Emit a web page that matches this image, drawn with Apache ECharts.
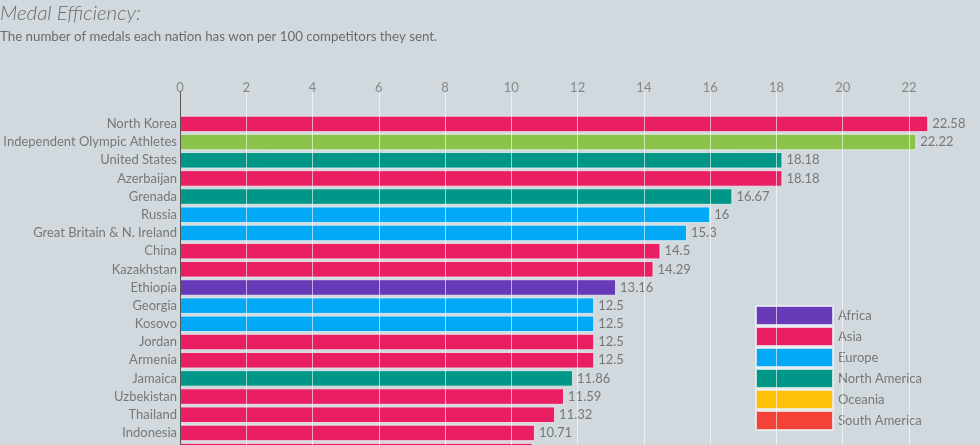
<!DOCTYPE html>
<html>
<head>
<meta charset="utf-8">
<script src="https://cdn.jsdelivr.net/npm/echarts@6/dist/echarts.min.js"></script>
<style>
html,body{margin:0;padding:0;background:#d1d9de;overflow:hidden;}
#chart{width:980px;height:470px;}
</style>
</head>
<body>
<div id="chart"></div>
<script>
const countries = ["North Korea","Independent Olympic Athletes","United States","Azerbaijan","Grenada","Russia","Great Britain & N. Ireland","China","Kazakhstan","Ethiopia","Georgia","Kosovo","Jordan","Armenia","Jamaica","Uzbekistan","Thailand","Indonesia","Bahrain"];
const values = [22.58,22.22,18.18,18.18,16.67,16,15.3,14.5,14.29,13.16,12.5,12.5,12.5,12.5,11.86,11.59,11.32,10.71,10.64];
const continents = ["Asia","Independent","North America","Asia","North America","Europe","Europe","Asia","Asia","Africa","Europe","Europe","Asia","Asia","North America","Asia","Asia","Asia","Asia"];
const legendNames = ["Africa","Asia","Europe","North America","Oceania","South America"];
const groupNames = ["Africa","Asia","Europe","North America","Oceania","South America","Independent"];
const groupColors = ["#673ab7","#e91e63","#03a9f4","#009688","#ffc107","#f44336","#8bc34a"];
const tickInterval = 2;

const chart = echarts.init(document.getElementById('chart'));
const series = groupNames.map((g, gi) => ({
  name: g,
  type: 'bar',
  stack: 'all',
  xAxisIndex: 0,
  yAxisIndex: 0,
  barWidth: 16.5,
  clip: false,
  data: values.map((v, i) => continents[i] === g ? v : '-'),
  itemStyle: { color: groupColors[gi], borderColor: 'rgba(235,240,243,0.8)', borderWidth: 1 },
  label: { show: true, position: 'right', distance: 4, color: '#777', fontSize: 13, fontFamily: 'Lato' }
}));

chart.setOption({
  animation: false,
  backgroundColor: '#d1d9de',
  textStyle: { fontFamily: 'Lato' },
  title: [
    { text: 'Medal Efficiency:', left: 0, top: 3, padding: 0,
      textStyle: { fontFamily: 'Lato', fontStyle: 'italic', fontWeight: 300, fontSize: 20.5, color: '#6b6b6b' } },
    { text: 'The number of medals each nation has won per 100 competitors they sent.', left: 0, top: 30, padding: 0,
      textStyle: { fontFamily: 'Lato', fontWeight: 'normal', fontSize: 13.3, color: '#6b6b6b' } }
  ],
  legend: {
    data: legendNames, orient: 'vertical', left: 755, top: 305, padding: 0,
    itemWidth: 77, itemHeight: 19, itemGap: 0, icon: 'rect', selectedMode: false,
    textStyle: { color: '#777', fontSize: 13, fontFamily: 'Lato' }
  },
  grid: [
    { left: 180, right: 71, top: 114.8, bottom: 9.8 },
    { left: 180, right: 71, top: 92, bottom: 0 }
  ],
  xAxis: [
    { gridIndex: 0, type: 'value', min: 0, max: 22, show: false },
    { gridIndex: 1, type: 'value', position: 'top', min: 0, max: 22, interval: tickInterval, z: 5,
      axisLine: { show: false }, axisTick: { show: false },
      axisLabel: { color: '#888', fontSize: 13, margin: -2, fontFamily: 'Lato' },
      splitLine: { show: true, lineStyle: { color: 'rgba(255,255,255,0.6)', width: 1 } } }
  ],
  yAxis: [
    { gridIndex: 0, type: 'category', inverse: true, data: countries,
      axisLine: { show: false }, axisTick: { show: false },
      axisLabel: { color: '#777', fontSize: 13, margin: 3, fontFamily: 'Lato' } },
    { gridIndex: 1, type: 'value', min: 0, max: 1, z: 6,
      axisLine: { show: true, lineStyle: { color: '#555', width: 1 } },
      axisTick: { show: false }, axisLabel: { show: false }, splitLine: { show: false } }
  ],
  series: series
});
</script>
</body>
</html>
